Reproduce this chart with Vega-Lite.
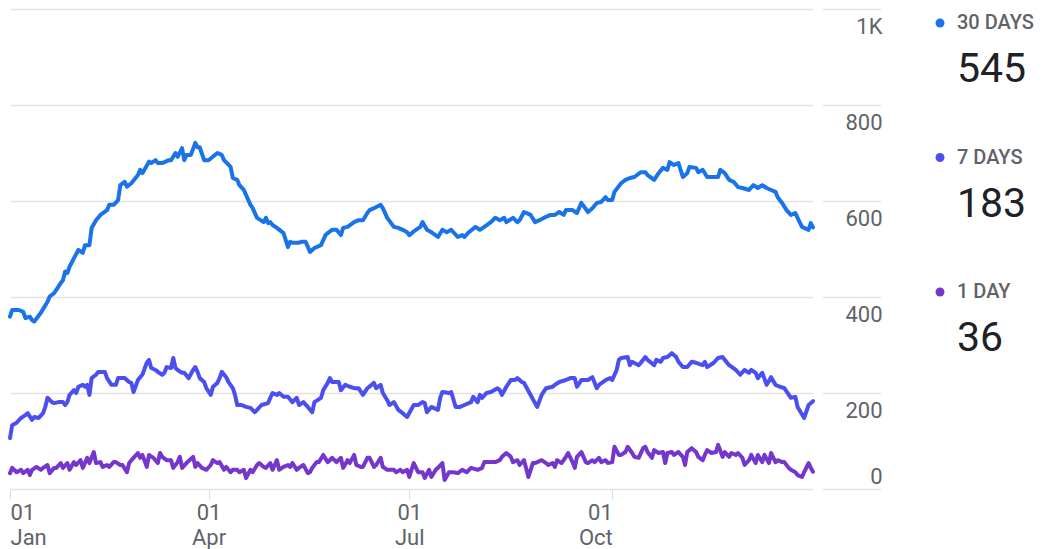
{
  "$schema": "https://vega.github.io/schema/vega-lite/v6.json",
  "background": "white",
  "padding": {"left": 8, "top": 8, "right": 0, "bottom": 0},
  "spacing": 48,
  "config": {"font": "Roboto", "view": {"stroke": null}},
  "hconcat": [
    {
      "width": 803,
      "height": 480,
      "data": {
        "format": {"parse": {"j": "utc:'%j'"}},
        "values": [
{"j":1,"s":"30 DAYS","v":359},{"j":2,"s":"30 DAYS","v":373},{"j":5,"s":"30 DAYS","v":373},{"j":7,"s":"30 DAYS","v":369},{"j":8,"s":"30 DAYS","v":356},{"j":10,"s":"30 DAYS","v":359},{"j":11,"s":"30 DAYS","v":352},{"j":12,"s":"30 DAYS","v":349},{"j":15,"s":"30 DAYS","v":367},{"j":18,"s":"30 DAYS","v":390},{"j":19,"s":"30 DAYS","v":401},{"j":21,"s":"30 DAYS","v":408},{"j":24,"s":"30 DAYS","v":429},{"j":25,"s":"30 DAYS","v":435},{"j":26,"s":"30 DAYS","v":453},{"j":27,"s":"30 DAYS","v":450},{"j":28,"s":"30 DAYS","v":463},{"j":30,"s":"30 DAYS","v":481},{"j":32,"s":"30 DAYS","v":498},{"j":34,"s":"30 DAYS","v":492},{"j":35,"s":"30 DAYS","v":508},{"j":37,"s":"30 DAYS","v":508},{"j":38,"s":"30 DAYS","v":544},{"j":40,"s":"30 DAYS","v":560},{"j":42,"s":"30 DAYS","v":571},{"j":45,"s":"30 DAYS","v":581},{"j":46,"s":"30 DAYS","v":592},{"j":48,"s":"30 DAYS","v":592},{"j":50,"s":"30 DAYS","v":602},{"j":51,"s":"30 DAYS","v":633},{"j":53,"s":"30 DAYS","v":640},{"j":54,"s":"30 DAYS","v":630},{"j":56,"s":"30 DAYS","v":637},{"j":59,"s":"30 DAYS","v":654},{"j":60,"s":"30 DAYS","v":665},{"j":61,"s":"30 DAYS","v":658},{"j":64,"s":"30 DAYS","v":682},{"j":65,"s":"30 DAYS","v":679},{"j":67,"s":"30 DAYS","v":685},{"j":68,"s":"30 DAYS","v":679},{"j":70,"s":"30 DAYS","v":679},{"j":73,"s":"30 DAYS","v":685},{"j":74,"s":"30 DAYS","v":685},{"j":76,"s":"30 DAYS","v":700},{"j":77,"s":"30 DAYS","v":692},{"j":79,"s":"30 DAYS","v":710},{"j":80,"s":"30 DAYS","v":685},{"j":81,"s":"30 DAYS","v":696},{"j":83,"s":"30 DAYS","v":696},{"j":85,"s":"30 DAYS","v":721},{"j":86,"s":"30 DAYS","v":712},{"j":87,"s":"30 DAYS","v":712},{"j":89,"s":"30 DAYS","v":685},{"j":91,"s":"30 DAYS","v":685},{"j":95,"s":"30 DAYS","v":700},{"j":97,"s":"30 DAYS","v":696},{"j":98,"s":"30 DAYS","v":685},{"j":101,"s":"30 DAYS","v":671},{"j":102,"s":"30 DAYS","v":648},{"j":104,"s":"30 DAYS","v":644},{"j":105,"s":"30 DAYS","v":633},{"j":107,"s":"30 DAYS","v":623},{"j":110,"s":"30 DAYS","v":592},{"j":111,"s":"30 DAYS","v":585},{"j":113,"s":"30 DAYS","v":565},{"j":116,"s":"30 DAYS","v":556},{"j":117,"s":"30 DAYS","v":565},{"j":118,"s":"30 DAYS","v":554},{"j":119,"s":"30 DAYS","v":556},{"j":120,"s":"30 DAYS","v":550},{"j":122,"s":"30 DAYS","v":544},{"j":125,"s":"30 DAYS","v":533},{"j":127,"s":"30 DAYS","v":504},{"j":128,"s":"30 DAYS","v":515},{"j":129,"s":"30 DAYS","v":513},{"j":132,"s":"30 DAYS","v":513},{"j":133,"s":"30 DAYS","v":515},{"j":135,"s":"30 DAYS","v":515},{"j":137,"s":"30 DAYS","v":494},{"j":139,"s":"30 DAYS","v":502},{"j":142,"s":"30 DAYS","v":508},{"j":144,"s":"30 DAYS","v":529},{"j":145,"s":"30 DAYS","v":533},{"j":147,"s":"30 DAYS","v":540},{"j":149,"s":"30 DAYS","v":540},{"j":151,"s":"30 DAYS","v":529},{"j":152,"s":"30 DAYS","v":544},{"j":154,"s":"30 DAYS","v":546},{"j":157,"s":"30 DAYS","v":556},{"j":159,"s":"30 DAYS","v":560},{"j":161,"s":"30 DAYS","v":560},{"j":163,"s":"30 DAYS","v":575},{"j":164,"s":"30 DAYS","v":581},{"j":166,"s":"30 DAYS","v":585},{"j":169,"s":"30 DAYS","v":592},{"j":170,"s":"30 DAYS","v":585},{"j":172,"s":"30 DAYS","v":565},{"j":175,"s":"30 DAYS","v":546},{"j":177,"s":"30 DAYS","v":544},{"j":179,"s":"30 DAYS","v":540},{"j":181,"s":"30 DAYS","v":535},{"j":182,"s":"30 DAYS","v":529},{"j":185,"s":"30 DAYS","v":540},{"j":187,"s":"30 DAYS","v":546},{"j":188,"s":"30 DAYS","v":556},{"j":190,"s":"30 DAYS","v":540},{"j":192,"s":"30 DAYS","v":535},{"j":195,"s":"30 DAYS","v":525},{"j":197,"s":"30 DAYS","v":540},{"j":199,"s":"30 DAYS","v":535},{"j":201,"s":"30 DAYS","v":540},{"j":204,"s":"30 DAYS","v":525},{"j":206,"s":"30 DAYS","v":529},{"j":207,"s":"30 DAYS","v":525},{"j":209,"s":"30 DAYS","v":535},{"j":212,"s":"30 DAYS","v":546},{"j":214,"s":"30 DAYS","v":540},{"j":216,"s":"30 DAYS","v":546},{"j":219,"s":"30 DAYS","v":556},{"j":221,"s":"30 DAYS","v":565},{"j":223,"s":"30 DAYS","v":560},{"j":225,"s":"30 DAYS","v":565},{"j":226,"s":"30 DAYS","v":556},{"j":229,"s":"30 DAYS","v":565},{"j":231,"s":"30 DAYS","v":556},{"j":232,"s":"30 DAYS","v":560},{"j":234,"s":"30 DAYS","v":577},{"j":237,"s":"30 DAYS","v":571},{"j":239,"s":"30 DAYS","v":556},{"j":241,"s":"30 DAYS","v":560},{"j":244,"s":"30 DAYS","v":567},{"j":246,"s":"30 DAYS","v":571},{"j":248,"s":"30 DAYS","v":571},{"j":250,"s":"30 DAYS","v":577},{"j":252,"s":"30 DAYS","v":571},{"j":253,"s":"30 DAYS","v":581},{"j":256,"s":"30 DAYS","v":581},{"j":258,"s":"30 DAYS","v":575},{"j":260,"s":"30 DAYS","v":596},{"j":263,"s":"30 DAYS","v":577},{"j":265,"s":"30 DAYS","v":585},{"j":267,"s":"30 DAYS","v":596},{"j":269,"s":"30 DAYS","v":598},{"j":271,"s":"30 DAYS","v":608},{"j":272,"s":"30 DAYS","v":602},{"j":274,"s":"30 DAYS","v":602},{"j":275,"s":"30 DAYS","v":619},{"j":278,"s":"30 DAYS","v":637},{"j":280,"s":"30 DAYS","v":644},{"j":282,"s":"30 DAYS","v":648},{"j":284,"s":"30 DAYS","v":650},{"j":287,"s":"30 DAYS","v":660},{"j":289,"s":"30 DAYS","v":660},{"j":290,"s":"30 DAYS","v":654},{"j":293,"s":"30 DAYS","v":644},{"j":295,"s":"30 DAYS","v":658},{"j":297,"s":"30 DAYS","v":669},{"j":299,"s":"30 DAYS","v":665},{"j":300,"s":"30 DAYS","v":681},{"j":302,"s":"30 DAYS","v":675},{"j":304,"s":"30 DAYS","v":679},{"j":306,"s":"30 DAYS","v":650},{"j":308,"s":"30 DAYS","v":658},{"j":309,"s":"30 DAYS","v":671},{"j":312,"s":"30 DAYS","v":669},{"j":313,"s":"30 DAYS","v":660},{"j":315,"s":"30 DAYS","v":665},{"j":317,"s":"30 DAYS","v":650},{"j":319,"s":"30 DAYS","v":650},{"j":322,"s":"30 DAYS","v":650},{"j":323,"s":"30 DAYS","v":665},{"j":325,"s":"30 DAYS","v":658},{"j":327,"s":"30 DAYS","v":644},{"j":329,"s":"30 DAYS","v":640},{"j":331,"s":"30 DAYS","v":629},{"j":333,"s":"30 DAYS","v":627},{"j":336,"s":"30 DAYS","v":623},{"j":338,"s":"30 DAYS","v":633},{"j":340,"s":"30 DAYS","v":627},{"j":342,"s":"30 DAYS","v":633},{"j":344,"s":"30 DAYS","v":627},{"j":346,"s":"30 DAYS","v":623},{"j":348,"s":"30 DAYS","v":619},{"j":349,"s":"30 DAYS","v":608},{"j":351,"s":"30 DAYS","v":596},{"j":353,"s":"30 DAYS","v":581},{"j":355,"s":"30 DAYS","v":571},{"j":357,"s":"30 DAYS","v":575},{"j":358,"s":"30 DAYS","v":565},{"j":360,"s":"30 DAYS","v":546},{"j":363,"s":"30 DAYS","v":540},{"j":364,"s":"30 DAYS","v":554},{"j":365,"s":"30 DAYS","v":545},
{"j":1,"s":"7 DAYS","v":106},{"j":2,"s":"7 DAYS","v":133},{"j":4,"s":"7 DAYS","v":138},{"j":6,"s":"7 DAYS","v":148},{"j":8,"s":"7 DAYS","v":154},{"j":9,"s":"7 DAYS","v":158},{"j":11,"s":"7 DAYS","v":144},{"j":12,"s":"7 DAYS","v":150},{"j":14,"s":"7 DAYS","v":148},{"j":16,"s":"7 DAYS","v":158},{"j":17,"s":"7 DAYS","v":171},{"j":18,"s":"7 DAYS","v":190},{"j":20,"s":"7 DAYS","v":181},{"j":21,"s":"7 DAYS","v":179},{"j":23,"s":"7 DAYS","v":181},{"j":25,"s":"7 DAYS","v":181},{"j":26,"s":"7 DAYS","v":175},{"j":27,"s":"7 DAYS","v":181},{"j":28,"s":"7 DAYS","v":196},{"j":30,"s":"7 DAYS","v":206},{"j":31,"s":"7 DAYS","v":200},{"j":32,"s":"7 DAYS","v":213},{"j":34,"s":"7 DAYS","v":217},{"j":35,"s":"7 DAYS","v":213},{"j":36,"s":"7 DAYS","v":217},{"j":37,"s":"7 DAYS","v":196},{"j":38,"s":"7 DAYS","v":231},{"j":40,"s":"7 DAYS","v":238},{"j":41,"s":"7 DAYS","v":244},{"j":43,"s":"7 DAYS","v":244},{"j":44,"s":"7 DAYS","v":244},{"j":45,"s":"7 DAYS","v":231},{"j":47,"s":"7 DAYS","v":217},{"j":49,"s":"7 DAYS","v":217},{"j":50,"s":"7 DAYS","v":231},{"j":52,"s":"7 DAYS","v":231},{"j":53,"s":"7 DAYS","v":231},{"j":55,"s":"7 DAYS","v":223},{"j":56,"s":"7 DAYS","v":221},{"j":57,"s":"7 DAYS","v":202},{"j":59,"s":"7 DAYS","v":227},{"j":60,"s":"7 DAYS","v":233},{"j":61,"s":"7 DAYS","v":238},{"j":63,"s":"7 DAYS","v":263},{"j":64,"s":"7 DAYS","v":269},{"j":65,"s":"7 DAYS","v":252},{"j":67,"s":"7 DAYS","v":248},{"j":68,"s":"7 DAYS","v":244},{"j":70,"s":"7 DAYS","v":238},{"j":71,"s":"7 DAYS","v":242},{"j":72,"s":"7 DAYS","v":254},{"j":74,"s":"7 DAYS","v":252},{"j":75,"s":"7 DAYS","v":273},{"j":76,"s":"7 DAYS","v":252},{"j":77,"s":"7 DAYS","v":248},{"j":79,"s":"7 DAYS","v":242},{"j":80,"s":"7 DAYS","v":242},{"j":82,"s":"7 DAYS","v":231},{"j":84,"s":"7 DAYS","v":248},{"j":85,"s":"7 DAYS","v":254},{"j":86,"s":"7 DAYS","v":244},{"j":87,"s":"7 DAYS","v":231},{"j":89,"s":"7 DAYS","v":223},{"j":90,"s":"7 DAYS","v":210},{"j":92,"s":"7 DAYS","v":196},{"j":93,"s":"7 DAYS","v":213},{"j":95,"s":"7 DAYS","v":221},{"j":96,"s":"7 DAYS","v":231},{"j":97,"s":"7 DAYS","v":244},{"j":99,"s":"7 DAYS","v":233},{"j":100,"s":"7 DAYS","v":223},{"j":102,"s":"7 DAYS","v":210},{"j":103,"s":"7 DAYS","v":196},{"j":104,"s":"7 DAYS","v":175},{"j":106,"s":"7 DAYS","v":175},{"j":108,"s":"7 DAYS","v":171},{"j":110,"s":"7 DAYS","v":169},{"j":112,"s":"7 DAYS","v":160},{"j":113,"s":"7 DAYS","v":165},{"j":115,"s":"7 DAYS","v":175},{"j":118,"s":"7 DAYS","v":179},{"j":119,"s":"7 DAYS","v":190},{"j":120,"s":"7 DAYS","v":200},{"j":122,"s":"7 DAYS","v":196},{"j":123,"s":"7 DAYS","v":200},{"j":125,"s":"7 DAYS","v":192},{"j":127,"s":"7 DAYS","v":192},{"j":129,"s":"7 DAYS","v":181},{"j":131,"s":"7 DAYS","v":190},{"j":132,"s":"7 DAYS","v":175},{"j":134,"s":"7 DAYS","v":181},{"j":136,"s":"7 DAYS","v":171},{"j":138,"s":"7 DAYS","v":160},{"j":139,"s":"7 DAYS","v":181},{"j":142,"s":"7 DAYS","v":190},{"j":143,"s":"7 DAYS","v":206},{"j":145,"s":"7 DAYS","v":221},{"j":146,"s":"7 DAYS","v":231},{"j":147,"s":"7 DAYS","v":223},{"j":150,"s":"7 DAYS","v":223},{"j":151,"s":"7 DAYS","v":206},{"j":153,"s":"7 DAYS","v":217},{"j":155,"s":"7 DAYS","v":213},{"j":157,"s":"7 DAYS","v":210},{"j":159,"s":"7 DAYS","v":210},{"j":161,"s":"7 DAYS","v":196},{"j":163,"s":"7 DAYS","v":210},{"j":166,"s":"7 DAYS","v":221},{"j":167,"s":"7 DAYS","v":210},{"j":169,"s":"7 DAYS","v":217},{"j":170,"s":"7 DAYS","v":200},{"j":172,"s":"7 DAYS","v":185},{"j":173,"s":"7 DAYS","v":175},{"j":175,"s":"7 DAYS","v":181},{"j":177,"s":"7 DAYS","v":165},{"j":179,"s":"7 DAYS","v":158},{"j":181,"s":"7 DAYS","v":150},{"j":184,"s":"7 DAYS","v":175},{"j":186,"s":"7 DAYS","v":175},{"j":188,"s":"7 DAYS","v":181},{"j":189,"s":"7 DAYS","v":179},{"j":190,"s":"7 DAYS","v":160},{"j":192,"s":"7 DAYS","v":171},{"j":195,"s":"7 DAYS","v":165},{"j":196,"s":"7 DAYS","v":190},{"j":197,"s":"7 DAYS","v":202},{"j":200,"s":"7 DAYS","v":200},{"j":201,"s":"7 DAYS","v":202},{"j":203,"s":"7 DAYS","v":171},{"j":205,"s":"7 DAYS","v":171},{"j":207,"s":"7 DAYS","v":175},{"j":210,"s":"7 DAYS","v":181},{"j":211,"s":"7 DAYS","v":192},{"j":213,"s":"7 DAYS","v":181},{"j":214,"s":"7 DAYS","v":196},{"j":215,"s":"7 DAYS","v":190},{"j":217,"s":"7 DAYS","v":200},{"j":219,"s":"7 DAYS","v":202},{"j":222,"s":"7 DAYS","v":210},{"j":223,"s":"7 DAYS","v":206},{"j":224,"s":"7 DAYS","v":196},{"j":226,"s":"7 DAYS","v":213},{"j":228,"s":"7 DAYS","v":227},{"j":230,"s":"7 DAYS","v":227},{"j":231,"s":"7 DAYS","v":231},{"j":233,"s":"7 DAYS","v":223},{"j":234,"s":"7 DAYS","v":221},{"j":237,"s":"7 DAYS","v":196},{"j":239,"s":"7 DAYS","v":179},{"j":240,"s":"7 DAYS","v":171},{"j":242,"s":"7 DAYS","v":196},{"j":244,"s":"7 DAYS","v":210},{"j":247,"s":"7 DAYS","v":213},{"j":248,"s":"7 DAYS","v":217},{"j":250,"s":"7 DAYS","v":223},{"j":253,"s":"7 DAYS","v":227},{"j":255,"s":"7 DAYS","v":231},{"j":257,"s":"7 DAYS","v":231},{"j":258,"s":"7 DAYS","v":213},{"j":260,"s":"7 DAYS","v":227},{"j":263,"s":"7 DAYS","v":227},{"j":265,"s":"7 DAYS","v":233},{"j":267,"s":"7 DAYS","v":210},{"j":268,"s":"7 DAYS","v":217},{"j":271,"s":"7 DAYS","v":227},{"j":273,"s":"7 DAYS","v":231},{"j":274,"s":"7 DAYS","v":227},{"j":276,"s":"7 DAYS","v":248},{"j":277,"s":"7 DAYS","v":269},{"j":278,"s":"7 DAYS","v":273},{"j":281,"s":"7 DAYS","v":275},{"j":282,"s":"7 DAYS","v":258},{"j":283,"s":"7 DAYS","v":265},{"j":286,"s":"7 DAYS","v":258},{"j":288,"s":"7 DAYS","v":269},{"j":289,"s":"7 DAYS","v":275},{"j":290,"s":"7 DAYS","v":269},{"j":293,"s":"7 DAYS","v":258},{"j":294,"s":"7 DAYS","v":269},{"j":296,"s":"7 DAYS","v":265},{"j":297,"s":"7 DAYS","v":273},{"j":299,"s":"7 DAYS","v":275},{"j":301,"s":"7 DAYS","v":283},{"j":303,"s":"7 DAYS","v":275},{"j":304,"s":"7 DAYS","v":265},{"j":306,"s":"7 DAYS","v":254},{"j":308,"s":"7 DAYS","v":254},{"j":310,"s":"7 DAYS","v":265},{"j":312,"s":"7 DAYS","v":263},{"j":315,"s":"7 DAYS","v":258},{"j":316,"s":"7 DAYS","v":265},{"j":317,"s":"7 DAYS","v":254},{"j":320,"s":"7 DAYS","v":263},{"j":322,"s":"7 DAYS","v":273},{"j":324,"s":"7 DAYS","v":275},{"j":325,"s":"7 DAYS","v":269},{"j":327,"s":"7 DAYS","v":258},{"j":330,"s":"7 DAYS","v":248},{"j":332,"s":"7 DAYS","v":238},{"j":334,"s":"7 DAYS","v":248},{"j":336,"s":"7 DAYS","v":242},{"j":337,"s":"7 DAYS","v":248},{"j":339,"s":"7 DAYS","v":242},{"j":340,"s":"7 DAYS","v":231},{"j":342,"s":"7 DAYS","v":242},{"j":344,"s":"7 DAYS","v":217},{"j":346,"s":"7 DAYS","v":233},{"j":348,"s":"7 DAYS","v":217},{"j":350,"s":"7 DAYS","v":213},{"j":352,"s":"7 DAYS","v":210},{"j":355,"s":"7 DAYS","v":190},{"j":357,"s":"7 DAYS","v":192},{"j":358,"s":"7 DAYS","v":171},{"j":361,"s":"7 DAYS","v":148},{"j":363,"s":"7 DAYS","v":175},{"j":365,"s":"7 DAYS","v":183},
{"j":1,"s":"1 DAY","v":33},{"j":2,"s":"1 DAY","v":44},{"j":4,"s":"1 DAY","v":35},{"j":6,"s":"1 DAY","v":40},{"j":7,"s":"1 DAY","v":33},{"j":9,"s":"1 DAY","v":40},{"j":10,"s":"1 DAY","v":29},{"j":11,"s":"1 DAY","v":40},{"j":13,"s":"1 DAY","v":46},{"j":15,"s":"1 DAY","v":40},{"j":16,"s":"1 DAY","v":44},{"j":18,"s":"1 DAY","v":50},{"j":19,"s":"1 DAY","v":33},{"j":21,"s":"1 DAY","v":44},{"j":22,"s":"1 DAY","v":44},{"j":24,"s":"1 DAY","v":54},{"j":25,"s":"1 DAY","v":44},{"j":27,"s":"1 DAY","v":54},{"j":28,"s":"1 DAY","v":40},{"j":30,"s":"1 DAY","v":56},{"j":31,"s":"1 DAY","v":50},{"j":33,"s":"1 DAY","v":60},{"j":34,"s":"1 DAY","v":44},{"j":36,"s":"1 DAY","v":65},{"j":37,"s":"1 DAY","v":54},{"j":39,"s":"1 DAY","v":77},{"j":40,"s":"1 DAY","v":54},{"j":42,"s":"1 DAY","v":56},{"j":43,"s":"1 DAY","v":46},{"j":45,"s":"1 DAY","v":50},{"j":46,"s":"1 DAY","v":46},{"j":48,"s":"1 DAY","v":56},{"j":49,"s":"1 DAY","v":56},{"j":51,"s":"1 DAY","v":50},{"j":52,"s":"1 DAY","v":50},{"j":54,"s":"1 DAY","v":35},{"j":55,"s":"1 DAY","v":54},{"j":57,"s":"1 DAY","v":65},{"j":59,"s":"1 DAY","v":75},{"j":60,"s":"1 DAY","v":65},{"j":61,"s":"1 DAY","v":71},{"j":63,"s":"1 DAY","v":46},{"j":64,"s":"1 DAY","v":71},{"j":66,"s":"1 DAY","v":65},{"j":68,"s":"1 DAY","v":54},{"j":69,"s":"1 DAY","v":75},{"j":70,"s":"1 DAY","v":67},{"j":72,"s":"1 DAY","v":60},{"j":74,"s":"1 DAY","v":60},{"j":75,"s":"1 DAY","v":44},{"j":77,"s":"1 DAY","v":56},{"j":78,"s":"1 DAY","v":67},{"j":79,"s":"1 DAY","v":44},{"j":81,"s":"1 DAY","v":54},{"j":84,"s":"1 DAY","v":67},{"j":85,"s":"1 DAY","v":46},{"j":86,"s":"1 DAY","v":54},{"j":88,"s":"1 DAY","v":44},{"j":90,"s":"1 DAY","v":40},{"j":92,"s":"1 DAY","v":50},{"j":93,"s":"1 DAY","v":60},{"j":95,"s":"1 DAY","v":54},{"j":96,"s":"1 DAY","v":56},{"j":98,"s":"1 DAY","v":40},{"j":99,"s":"1 DAY","v":46},{"j":101,"s":"1 DAY","v":35},{"j":102,"s":"1 DAY","v":40},{"j":104,"s":"1 DAY","v":40},{"j":105,"s":"1 DAY","v":35},{"j":107,"s":"1 DAY","v":40},{"j":108,"s":"1 DAY","v":23},{"j":110,"s":"1 DAY","v":40},{"j":111,"s":"1 DAY","v":35},{"j":113,"s":"1 DAY","v":50},{"j":114,"s":"1 DAY","v":54},{"j":116,"s":"1 DAY","v":46},{"j":117,"s":"1 DAY","v":44},{"j":119,"s":"1 DAY","v":54},{"j":120,"s":"1 DAY","v":40},{"j":122,"s":"1 DAY","v":60},{"j":123,"s":"1 DAY","v":40},{"j":125,"s":"1 DAY","v":46},{"j":127,"s":"1 DAY","v":50},{"j":128,"s":"1 DAY","v":46},{"j":129,"s":"1 DAY","v":54},{"j":131,"s":"1 DAY","v":40},{"j":132,"s":"1 DAY","v":44},{"j":134,"s":"1 DAY","v":50},{"j":136,"s":"1 DAY","v":33},{"j":137,"s":"1 DAY","v":35},{"j":138,"s":"1 DAY","v":44},{"j":140,"s":"1 DAY","v":56},{"j":141,"s":"1 DAY","v":56},{"j":143,"s":"1 DAY","v":71},{"j":145,"s":"1 DAY","v":56},{"j":146,"s":"1 DAY","v":60},{"j":147,"s":"1 DAY","v":65},{"j":149,"s":"1 DAY","v":56},{"j":151,"s":"1 DAY","v":65},{"j":152,"s":"1 DAY","v":44},{"j":154,"s":"1 DAY","v":60},{"j":155,"s":"1 DAY","v":54},{"j":157,"s":"1 DAY","v":71},{"j":158,"s":"1 DAY","v":50},{"j":160,"s":"1 DAY","v":46},{"j":161,"s":"1 DAY","v":46},{"j":163,"s":"1 DAY","v":65},{"j":164,"s":"1 DAY","v":65},{"j":166,"s":"1 DAY","v":46},{"j":167,"s":"1 DAY","v":50},{"j":169,"s":"1 DAY","v":65},{"j":170,"s":"1 DAY","v":46},{"j":172,"s":"1 DAY","v":40},{"j":173,"s":"1 DAY","v":40},{"j":175,"s":"1 DAY","v":40},{"j":176,"s":"1 DAY","v":35},{"j":178,"s":"1 DAY","v":40},{"j":179,"s":"1 DAY","v":35},{"j":181,"s":"1 DAY","v":40},{"j":182,"s":"1 DAY","v":25},{"j":183,"s":"1 DAY","v":40},{"j":184,"s":"1 DAY","v":54},{"j":186,"s":"1 DAY","v":35},{"j":188,"s":"1 DAY","v":35},{"j":189,"s":"1 DAY","v":23},{"j":191,"s":"1 DAY","v":40},{"j":192,"s":"1 DAY","v":25},{"j":194,"s":"1 DAY","v":40},{"j":195,"s":"1 DAY","v":44},{"j":197,"s":"1 DAY","v":54},{"j":198,"s":"1 DAY","v":19},{"j":200,"s":"1 DAY","v":35},{"j":202,"s":"1 DAY","v":35},{"j":204,"s":"1 DAY","v":33},{"j":206,"s":"1 DAY","v":40},{"j":208,"s":"1 DAY","v":35},{"j":210,"s":"1 DAY","v":44},{"j":213,"s":"1 DAY","v":40},{"j":215,"s":"1 DAY","v":44},{"j":216,"s":"1 DAY","v":56},{"j":219,"s":"1 DAY","v":56},{"j":221,"s":"1 DAY","v":56},{"j":223,"s":"1 DAY","v":60},{"j":224,"s":"1 DAY","v":67},{"j":226,"s":"1 DAY","v":75},{"j":228,"s":"1 DAY","v":67},{"j":229,"s":"1 DAY","v":56},{"j":231,"s":"1 DAY","v":60},{"j":232,"s":"1 DAY","v":50},{"j":234,"s":"1 DAY","v":60},{"j":236,"s":"1 DAY","v":25},{"j":238,"s":"1 DAY","v":54},{"j":239,"s":"1 DAY","v":54},{"j":240,"s":"1 DAY","v":56},{"j":242,"s":"1 DAY","v":60},{"j":244,"s":"1 DAY","v":54},{"j":245,"s":"1 DAY","v":50},{"j":247,"s":"1 DAY","v":54},{"j":248,"s":"1 DAY","v":46},{"j":249,"s":"1 DAY","v":60},{"j":251,"s":"1 DAY","v":54},{"j":253,"s":"1 DAY","v":67},{"j":254,"s":"1 DAY","v":75},{"j":256,"s":"1 DAY","v":56},{"j":257,"s":"1 DAY","v":44},{"j":258,"s":"1 DAY","v":67},{"j":260,"s":"1 DAY","v":77},{"j":262,"s":"1 DAY","v":56},{"j":263,"s":"1 DAY","v":54},{"j":265,"s":"1 DAY","v":60},{"j":266,"s":"1 DAY","v":56},{"j":268,"s":"1 DAY","v":65},{"j":269,"s":"1 DAY","v":56},{"j":271,"s":"1 DAY","v":60},{"j":272,"s":"1 DAY","v":54},{"j":274,"s":"1 DAY","v":56},{"j":275,"s":"1 DAY","v":88},{"j":277,"s":"1 DAY","v":71},{"j":278,"s":"1 DAY","v":71},{"j":280,"s":"1 DAY","v":77},{"j":281,"s":"1 DAY","v":88},{"j":283,"s":"1 DAY","v":75},{"j":284,"s":"1 DAY","v":67},{"j":286,"s":"1 DAY","v":65},{"j":288,"s":"1 DAY","v":85},{"j":289,"s":"1 DAY","v":88},{"j":290,"s":"1 DAY","v":77},{"j":292,"s":"1 DAY","v":65},{"j":293,"s":"1 DAY","v":81},{"j":295,"s":"1 DAY","v":75},{"j":297,"s":"1 DAY","v":77},{"j":298,"s":"1 DAY","v":54},{"j":299,"s":"1 DAY","v":75},{"j":301,"s":"1 DAY","v":77},{"j":302,"s":"1 DAY","v":71},{"j":304,"s":"1 DAY","v":77},{"j":306,"s":"1 DAY","v":67},{"j":307,"s":"1 DAY","v":50},{"j":308,"s":"1 DAY","v":77},{"j":310,"s":"1 DAY","v":85},{"j":312,"s":"1 DAY","v":77},{"j":313,"s":"1 DAY","v":67},{"j":315,"s":"1 DAY","v":60},{"j":316,"s":"1 DAY","v":71},{"j":317,"s":"1 DAY","v":81},{"j":319,"s":"1 DAY","v":75},{"j":321,"s":"1 DAY","v":77},{"j":322,"s":"1 DAY","v":92},{"j":324,"s":"1 DAY","v":67},{"j":325,"s":"1 DAY","v":77},{"j":327,"s":"1 DAY","v":67},{"j":328,"s":"1 DAY","v":75},{"j":330,"s":"1 DAY","v":71},{"j":331,"s":"1 DAY","v":75},{"j":333,"s":"1 DAY","v":65},{"j":334,"s":"1 DAY","v":50},{"j":336,"s":"1 DAY","v":60},{"j":337,"s":"1 DAY","v":71},{"j":339,"s":"1 DAY","v":54},{"j":340,"s":"1 DAY","v":71},{"j":342,"s":"1 DAY","v":56},{"j":343,"s":"1 DAY","v":71},{"j":345,"s":"1 DAY","v":54},{"j":346,"s":"1 DAY","v":75},{"j":348,"s":"1 DAY","v":56},{"j":349,"s":"1 DAY","v":60},{"j":351,"s":"1 DAY","v":56},{"j":352,"s":"1 DAY","v":56},{"j":354,"s":"1 DAY","v":44},{"j":355,"s":"1 DAY","v":40},{"j":357,"s":"1 DAY","v":35},{"j":358,"s":"1 DAY","v":29},{"j":360,"s":"1 DAY","v":25},{"j":361,"s":"1 DAY","v":35},{"j":363,"s":"1 DAY","v":54},{"j":364,"s":"1 DAY","v":44},{"j":365,"s":"1 DAY","v":36}
        ]
      },
      "mark": {"type": "line", "strokeWidth": 4, "strokeJoin": "round", "strokeCap": "round"},
      "encoding": {
        "x": {
          "field": "j",
          "type": "temporal",
          "scale": {
            "type": "utc",
            "domain": [
              {"year": 1900, "month": 1, "date": 1, "utc": true},
              {"year": 1900, "month": 12, "date": 31, "utc": true}
            ]
          },
          "axis": {
            "title": null,
            "values": [
              {"year": 1900, "month": 1, "date": 1, "utc": true},
              {"year": 1900, "month": 4, "date": 1, "utc": true},
              {"year": 1900, "month": 7, "date": 1, "utc": true},
              {"year": 1900, "month": 10, "date": 1, "utc": true}
            ],
            "grid": false,
            "domain": false,
            "ticks": true,
            "tickSize": 10,
            "tickColor": "#dadce0",
            "tickWidth": 1,
            "labelExpr": "[utcFormat(datum.value, '%d'), utcFormat(datum.value, '%b')]",
            "labelFont": "Roboto",
            "labelFontSize": 22,
            "labelColor": "#5f6368",
            "labelPadding": 3,
            "labelLineHeight": 25.5,
            "labelFlush": false,
            "labelOverlap": false,
            "labelBound": false,
            "labelAlign": {
              "condition": [
                {"test": "utcmonth(datum.value) == 0", "value": "left"},
                {"test": "utcmonth(datum.value) == 9", "value": "right"}
              ],
              "value": "center"
            }
          }
        },
        "y": {
          "field": "v",
          "type": "quantitative",
          "scale": {"domain": [0, 1000], "nice": false},
          "axis": {
            "title": null,
            "orient": "right",
            "values": [0, 200, 400, 600, 800, 1000],
            "offset": 9,
            "domain": false,
            "ticks": true,
            "tickSize": 59,
            "tickColor": "#e3e3e3",
            "tickWidth": 1.5,
            "grid": true,
            "gridColor": "#e3e3e3",
            "gridWidth": 1.5,
            "labelAlign": "right",
            "labelPadding": 1,
            "labelFont": "Roboto",
            "labelFontSize": 22,
            "labelColor": "#5f6368",
            "labelOverlap": false,
            "labelFlush": false,
            "labelBaseline": {"condition": {"test": "datum.value == 0", "value": "alphabetic"}, "value": "top"},
            "labelOffset": {"condition": {"test": "datum.value == 0", "value": -6}, "value": 7},
            "labelExpr": "datum.value == 1000 ? '1K' : datum.label"
          }
        },
        "color": {
          "field": "s",
          "type": "nominal",
          "scale": {"domain": ["30 DAYS", "7 DAYS", "1 DAY"], "range": ["#1a73e8", "#4b4ff0", "#7436cd"]},
          "legend": null
        }
      }
    },
    {
      "width": 20,
      "height": 297,
      "data": {"values": [
        {"s": "30 DAYS", "n": "545"},
        {"s": "7 DAYS", "n": "183"},
        {"s": "1 DAY", "n": "36"}
      ]},
      "encoding": {
        "y": {"field": "s", "type": "nominal", "scale": {"type": "point", "domain": ["30 DAYS", "7 DAYS", "1 DAY"], "padding": 0.104}, "axis": null}
      },
      "layer": [
        {
          "mark": {"type": "circle", "size": 80, "opacity": 1},
          "encoding": {
            "color": {"field": "s", "type": "nominal", "scale": {"domain": ["30 DAYS", "7 DAYS", "1 DAY"], "range": ["#1a73e8", "#4b4ff0", "#7436cd"]}, "legend": null}
          }
        },
        {
          "mark": {"type": "text", "align": "left", "baseline": "middle", "dx": 17, "font": "Roboto", "fontSize": 20, "fontWeight": 500, "color": "#5f6368"},
          "encoding": {"text": {"field": "s"}}
        },
        {
          "mark": {"type": "text", "align": "left", "baseline": "middle", "dx": 17, "dy": 47, "font": "Roboto", "fontSize": 41, "color": "#202124"},
          "encoding": {"text": {"field": "n"}}
        }
      ]
    }
  ]
}
